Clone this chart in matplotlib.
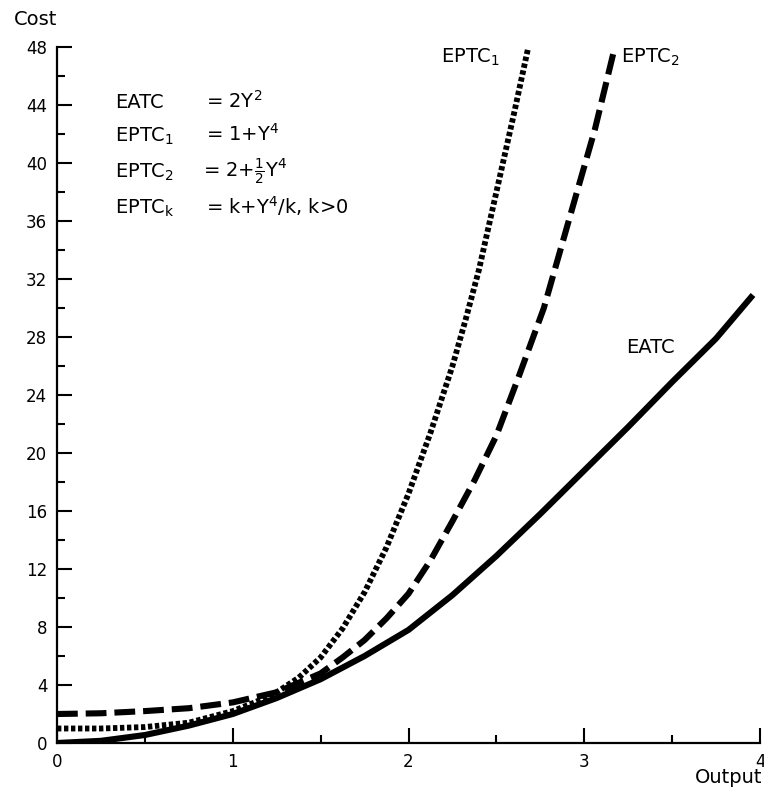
import matplotlib
matplotlib.use("Agg")
import matplotlib.pyplot as plt
from matplotlib.ticker import MultipleLocator

plt.rcParams['font.family'] = ['DejaVu Sans']
plt.rcParams['mathtext.default'] = 'regular'

# values
eatc_x = [0, 0.25, 0.5, 0.75, 1.0, 1.25, 1.5, 1.75, 2.0, 2.25, 2.5, 2.75, 3.0, 3.25, 3.5, 3.75, 3.96]
eatc_y = [0, 0.15, 0.55, 1.2, 2.0, 3.1, 4.4, 6.0, 7.8, 10.2, 12.9, 15.8, 18.8, 21.8, 24.9, 27.9, 30.9]

eptc1_x = [0, 0.25, 0.5, 0.75, 1.0, 1.125, 1.25, 1.375, 1.5, 1.625, 1.75, 1.875, 2.0,
           2.125, 2.25, 2.325, 2.4, 2.5, 2.6, 2.68]
eptc1_y = [1.0, 1.0, 1.1, 1.4, 2.2, 2.8, 3.5, 4.5, 5.9, 7.9, 10.4, 13.5, 17.2,
           21.4, 26.0, 29.2, 32.6, 38.0, 43.4, 47.9]

eptc2_x = [0, 0.25, 0.5, 0.75, 1.0, 1.25, 1.5, 1.625, 1.75, 1.875, 2.0, 2.125, 2.25,
           2.375, 2.5, 2.625, 2.77, 2.85, 2.93, 3.06, 3.17]
eptc2_y = [2.0, 2.05, 2.2, 2.4, 2.8, 3.5, 4.8, 5.9, 7.1, 8.6, 10.3, 12.6, 15.3,
           18.1, 21.2, 25.2, 30.0, 33.4, 36.8, 42.3, 47.8]

x_ticks = [0, 1, 2, 3, 4]
y_ticks = list(range(0, 49, 4))

fig = plt.figure(figsize=(7.64, 7.89), dpi=100)
ax = fig.add_axes([0.0746, 0.0583, 0.9202, 0.8821])

ax.plot(eatc_x, eatc_y, color='black', lw=4.4, solid_capstyle='butt', solid_joinstyle='round')
ax.plot(eptc1_x, eptc1_y, color='black', lw=4.2, linestyle=(0, (0.75, 0.45)), dash_capstyle='butt')
ax.plot(eptc2_x, eptc2_y, color='black', lw=4.4, linestyle=(0, (3.4, 1.3)), dash_capstyle='butt')

ax.set_xlim(0, 4)
ax.set_ylim(0, 48)
ax.set_xticks(x_ticks)
ax.set_yticks(y_ticks)
ax.xaxis.set_minor_locator(MultipleLocator(0.5))
ax.yaxis.set_minor_locator(MultipleLocator(2))
ax.tick_params(which='major', direction='in', length=11, width=1.5, labelsize=12, pad=7)
ax.tick_params(which='minor', direction='in', length=6, width=1.5)
for s in ('top', 'right'):
    ax.spines[s].set_visible(False)
for s in ('left', 'bottom'):
    ax.spines[s].set_linewidth(1.6)

fs = 14
ax.text(0.33, 43.8, 'EATC', fontsize=fs)
ax.text(0.845, 43.8, '= 2Y$^2$', fontsize=fs)
ax.text(0.33, 41.5, 'EPTC$_1$', fontsize=fs)
ax.text(0.845, 41.5, '= 1+Y$^4$', fontsize=fs)
ax.text(0.33, 39.0, 'EPTC$_2$', fontsize=fs)
ax.text(0.83, 39.0, r'= 2+$\frac{1}{2}$Y$^4$', fontsize=fs)
ax.text(0.33, 36.5, 'EPTC$_k$', fontsize=fs)
ax.text(0.85, 36.5, '= k+Y$^4$/k, k>0', fontsize=fs)

ax.text(2.185, 46.9, 'EPTC$_1$', fontsize=fs)
ax.text(3.21, 46.9, 'EPTC$_2$', fontsize=fs)
ax.text(3.24, 26.9, 'EATC', fontsize=fs)

fig.text(0.018, 0.975, 'Cost', fontsize=fs, va='center')
fig.text(0.998, 0.014, 'Output', fontsize=fs, ha='right', va='center')

fig.savefig('out.png', dpi=100)
